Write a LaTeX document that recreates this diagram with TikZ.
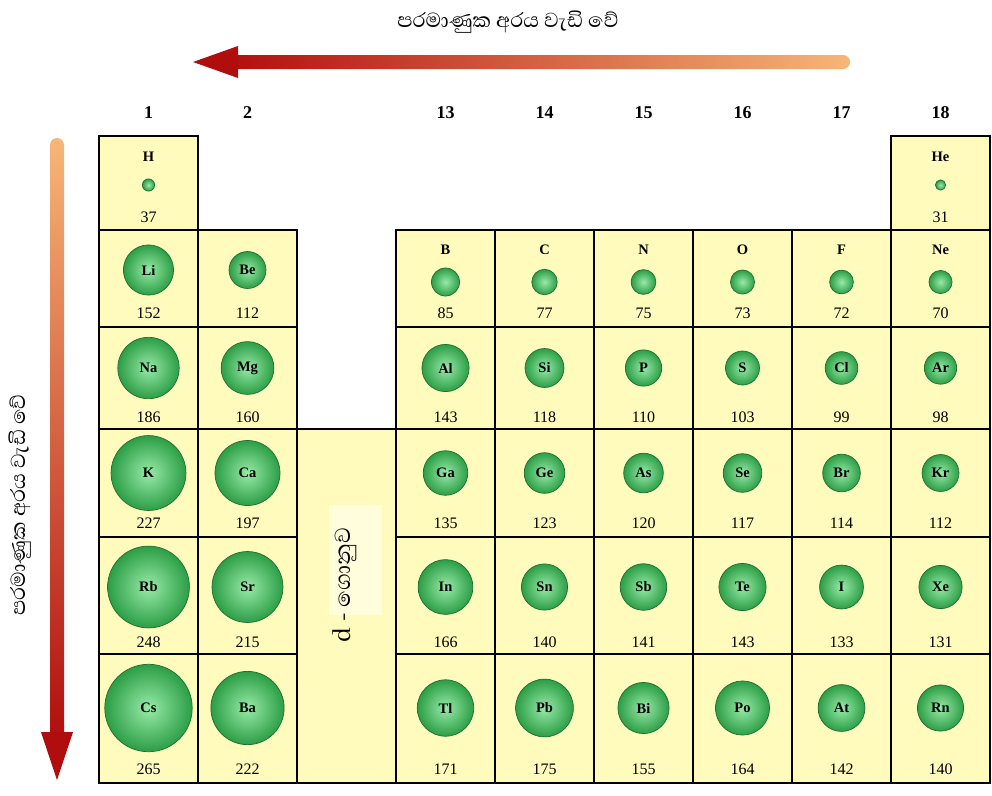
\documentclass[tikz,border=0pt]{standalone}
\usepackage{fontspec}
\setmainfont{Liberation Serif}
\newfontfamily\sinhala[Script=Sinhala]{Abhaya Libre}
\usetikzlibrary{shadings}

\definecolor{cellfill}{HTML}{FFFBBC}
\definecolor{patchfill}{HTML}{FFFDDC}
\definecolor{ballin}{HTML}{98EAA8}
\definecolor{ballout}{HTML}{2C9E46}
\definecolor{ballrim}{HTML}{1F6E31}
\definecolor{arrowdark}{HTML}{B00E0E}
\definecolor{arrowmid}{HTML}{D8502E}
\definecolor{arrowlight}{HTML}{F7B677}

\begin{document}
\begin{tikzpicture}[x=1pt, y=-1pt,
  cell/.style={rectangle, draw=black, line width=1.6pt, fill=cellfill,
    minimum width=99pt, inner sep=0pt},
  atom/.style={circle, inner sep=0pt, shade, inner color=ballin,
    outer color=ballout, draw=ballrim, line width=0.7pt,
    font=\fontsize{14.5}{14.5}\bfseries\selectfont},
  sym/.style={font=\fontsize{14.5}{14.5}\bfseries\selectfont},
  val/.style={font=\fontsize{16}{16}\selectfont},
  grp/.style={font=\fontsize{18}{18}\bfseries\selectfont},
  lbl/.style={font=\sinhala\fontsize{26}{26}\selectfont}]

\useasboundingbox (0,0) rectangle (992,795);

% ---------- trend arrows ----------
\shade[left color=arrowdark, middle color=arrowmid, right color=arrowlight,
  rounded corners=7pt] (225,55) rectangle (850,69);
\fill[arrowdark] (193,62) -- (238,46) -- (238,78) -- cycle;
\node[lbl] (toplbl) at (508,22) {පරමාණුක අරය වැඩි වේ};

\shade[top color=arrowlight, middle color=arrowmid, bottom color=arrowdark,
  rounded corners=7pt] (50,138) rectangle (64,740);
\fill[arrowdark] (57,780) -- (41,732) -- (73,732) -- cycle;
\node[lbl, rotate=90] (leftlbl) at (20,505) {පරමාණුක අරය වැඩි වේ};

% ---------- group numbers ----------
\foreach \x/\n in {148.5/1, 247.5/2, 445.5/13, 544.5/14, 643.5/15,
                   742.5/16, 841.5/17, 940.5/18}
  \node[grp] (g\n) at (\x,113) {\n};

% ---------- cells ----------
\node[cell, minimum height=94pt] (cell-1-1) at (148.5,183) {};
\node[cell, minimum height=94pt] (cell-1-18) at (940.5,183) {};
\foreach \top/\h/\rn in {230/97/2, 327/102/3, 429/108/4, 537/117/5, 654/129/6}
  \foreach \x/\cn in {148.5/1, 247.5/2, 445.5/13, 544.5/14, 643.5/15,
                      742.5/16, 841.5/17, 940.5/18}
    \node[cell, minimum height=\h pt] (cell-\rn-\cn) at (\x,\top+\h/2) {};
\node[cell, minimum height=354pt] (dblock) at (346.5,606) {};
\fill[patchfill] (329,505) rectangle (382,615);
\node[lbl, rotate=90, font=\sinhala\fontsize{28}{28}\selectfont] (dlbl)
  at (345,585) {d - ගොනුව};

% ---------- atoms with the symbol above the ball ----------
\foreach \s/\x/\sy/\y/\vy/\v in {
    H/148.5/157/185/217/37, He/940.5/157/185/217/31,
    B/445.5/250/282/313/85, C/544.5/250/282/313/77, N/643.5/250/282/313/75,
    O/742.5/250/282/313/73, F/841.5/250/282/313/72, Ne/940.5/250/282/313/70}
{
  \node[sym] (s-\s) at (\x,\sy) {\s};
  \node[atom, minimum size={0.33*\v}] (a-\s) at (\x,\y) {};
  \node[val] (v-\s) at (\x,\vy) {\v};
}

% ---------- atoms with the symbol inside the ball ----------
\foreach \s/\x/\y/\vy/\v in {
    Li/148.5/270/313/152, Be/247.5/270/313/112,
    Na/148.5/368/417/186, Mg/247.5/368/417/160, Al/445.5/368/417/143,
    Si/544.5/368/417/118, P/643.5/368/417/110, S/742.5/368/417/103,
    Cl/841.5/368/417/99, Ar/940.5/368/417/98,
    K/148.5/473/523/227, Ca/247.5/473/523/197, Ga/445.5/473/523/135,
    Ge/544.5/473/523/123, As/643.5/473/523/120, Se/742.5/473/523/117,
    Br/841.5/473/523/114, Kr/940.5/473/523/112,
    Rb/148.5/587/642/248, Sr/247.5/587/642/215, In/445.5/587/642/166,
    Sn/544.5/587/642/140, Sb/643.5/587/642/141, Te/742.5/587/642/143,
    I/841.5/587/642/133, Xe/940.5/587/642/131,
    Cs/148.5/708/769/265, Ba/247.5/708/769/222, Tl/445.5/708/769/171,
    Pb/544.5/708/769/175, Bi/643.5/708/769/155, Po/742.5/708/769/164,
    At/841.5/708/769/142, Rn/940.5/708/769/140}
{
  \node[atom, minimum size={0.33*\v}] (a-\s) at (\x,\y) {\s};
  \node[val] (v-\s) at (\x,\vy) {\v};
}
\end{tikzpicture}
\end{document}
